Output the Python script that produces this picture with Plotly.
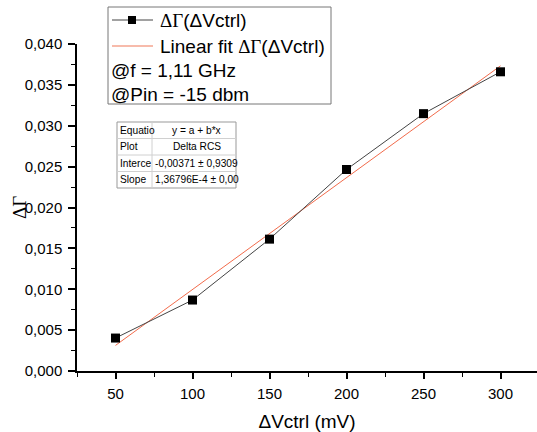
import plotly.graph_objects as go

# Data
vctrl = [50, 100, 150, 200, 250, 300]
delta_gamma = [0.00403, 0.00868, 0.01613, 0.02465, 0.03148, 0.03660]
fit_a = -0.00371
fit_b = 1.36796e-4
fit_x = [50, 300]
fit_y = [fit_a + fit_b * v for v in fit_x]

x_ticks = [50, 100, 150, 200, 250, 300]
y_ticks = [0.000, 0.005, 0.010, 0.015, 0.020, 0.025, 0.030, 0.035, 0.040]
y_ticklabels = ["0,000", "0,005", "0,010", "0,015", "0,020", "0,025", "0,030", "0,035", "0,040"]

SERIF = "Liberation Serif"
DG = "<span style='font-family:Liberation Serif'>ΔΓ</span>"
legend_rows = [DG + "(ΔVctrl)", "Linear fit " + DG + "(ΔVctrl)", "@f = 1,11 GHz", "@Pin = -15 dbm"]
table_rows = [["Equatio", "y = a + b*x"], ["Plot", "Delta RCS"],
              ["Interce", "-0,00371 ± 0,9309"], ["Slope", "1,36796E-4 ± 0,00"]]

W, H = 537, 432
L, R, T, B = 77, 0, 44, 61
PW, PH = W - L - R, H - T - B

def px(x):
    return (x - L) / PW

def py(y):
    return (H - B - y) / PH

FONT = "Liberation Sans, Arial, sans-serif"

fig = go.Figure()
fig.add_trace(go.Scatter(x=fit_x, y=fit_y, mode="lines",
                         line=dict(color="#F26B4B", width=1), showlegend=False))
fig.add_trace(go.Scatter(x=vctrl, y=delta_gamma, mode="lines+markers",
                         line=dict(color="#444444", width=1),
                         marker=dict(symbol="square", size=9, color="black"),
                         showlegend=False))

shapes = []
annotations = []

# legend box
shapes.append(dict(type="rect", xref="paper", yref="paper",
                   x0=px(108), x1=px(331), y0=py(104), y1=py(7),
                   line=dict(color="#777777", width=1), fillcolor="white"))
rows_y = [20, 46, 71, 95]
shapes.append(dict(type="line", xref="paper", yref="paper",
                   x0=px(112), x1=px(153), y0=py(rows_y[0]), y1=py(rows_y[0]),
                   line=dict(color="#444444", width=1)))
shapes.append(dict(type="rect", xref="paper", yref="paper",
                   x0=px(128), x1=px(136), y0=py(rows_y[0] + 4), y1=py(rows_y[0] - 4),
                   line=dict(color="black", width=0), fillcolor="black"))
shapes.append(dict(type="line", xref="paper", yref="paper",
                   x0=px(112), x1=px(153), y0=py(rows_y[1]), y1=py(rows_y[1]),
                   line=dict(color="#F5A58F", width=1.5)))
for i, txt in enumerate(legend_rows):
    annotations.append(dict(xref="paper", yref="paper",
                            x=px(158 if i < 2 else 109), y=py(rows_y[i]),
                            text=txt, showarrow=False, xanchor="left", yanchor="middle",
                            font=dict(family=FONT, size=19, color="black")))

# fit table
tx0, tx1, ty0, ty1 = 117, 236, 122, 188
colx = 152
shapes.append(dict(type="rect", xref="paper", yref="paper",
                   x0=px(tx0), x1=px(tx1), y0=py(ty1), y1=py(ty0),
                   line=dict(color="#999999", width=1), fillcolor="white"))
rh = (ty1 - ty0) / 4
for i in range(1, 4):
    yy = ty0 + i * rh
    shapes.append(dict(type="line", xref="paper", yref="paper",
                       x0=px(tx0), x1=px(tx1), y0=py(yy), y1=py(yy),
                       line=dict(color="#d0d0d0", width=1)))
shapes.append(dict(type="line", xref="paper", yref="paper",
                   x0=px(colx), x1=px(colx), y0=py(ty1), y1=py(ty0),
                   line=dict(color="#d0d0d0", width=1)))
for i, (a, b) in enumerate(table_rows):
    yc = ty0 + (i + 0.5) * rh
    annotations.append(dict(xref="paper", yref="paper", x=px(tx0 + 1), y=py(yc),
                            text=a, showarrow=False, xanchor="left", yanchor="middle",
                            font=dict(family=FONT, size=10.2, color="black")))
    annotations.append(dict(xref="paper", yref="paper", x=px((colx + tx1) / 2 + 2.5), y=py(yc),
                            text=b, showarrow=False, xanchor="center", yanchor="middle",
                            font=dict(family=FONT, size=10.2, color="black")))

# y-axis title
annotations.append(dict(xref="paper", yref="paper", x=px(20), y=py(208),
                        text="ΔΓ", textangle=-90, showarrow=False,
                        xanchor="center", yanchor="middle",
                        font=dict(family=SERIF, size=19, color="black")))

fig.update_layout(
    width=W, height=H,
    margin=dict(l=L, r=R, t=T, b=B),
    plot_bgcolor="white", paper_bgcolor="white",
    shapes=shapes, annotations=annotations,
    font=dict(family=FONT, size=15, color="black"),
    xaxis=dict(range=[25, 323.7], tickvals=x_ticks, ticktext=[str(v) for v in x_ticks],
               showline=True, linecolor="black", linewidth=1.5,
               ticks="outside", ticklen=6, tickwidth=1.5, tickcolor="black",
               ticklabelstandoff=2,
               minor=dict(tickvals=[25, 75, 125, 175, 225, 275], ticks="outside",
                          ticklen=4, tickwidth=1.2, tickcolor="black"),
               showgrid=False, zeroline=False,
               title=dict(text="ΔVctrl (mV)", font=dict(size=19), standoff=14),
               tickfont=dict(size=15)),
    yaxis=dict(range=[0, 0.040], tickvals=y_ticks, ticktext=y_ticklabels,
               showline=True, linecolor="black", linewidth=1.5,
               ticks="outside", ticklen=7, tickwidth=1.5, tickcolor="black",
               ticklabelstandoff=3,
               minor=dict(tickvals=[0.0025 + 0.005 * i for i in range(8)], ticks="outside",
                          ticklen=4, tickwidth=1.2, tickcolor="black"),
               showgrid=False, zeroline=False,
               tickfont=dict(size=15)),
)

fig.write_html("out.html")
